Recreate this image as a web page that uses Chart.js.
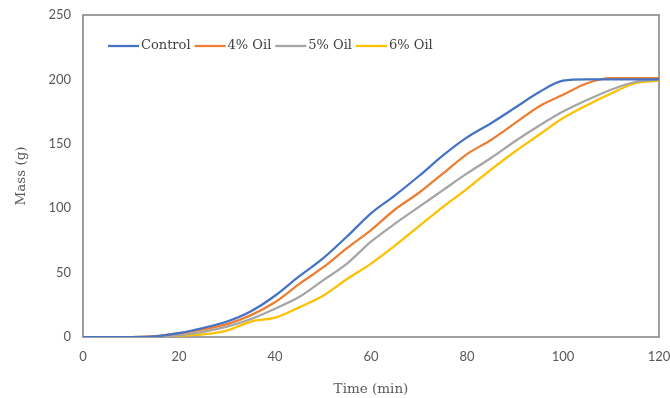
<!DOCTYPE html>
<html>
<head>
<meta charset="utf-8">
<script src="https://cdn.jsdelivr.net/npm/chart.js@4.4.0/dist/chart.umd.min.js"></script>
<style>
    html, body { margin: 0; padding: 0; background: #fff; }
    #wrap { width: 670px; height: 398px; }
</style>
</head>
<body>
<div id="wrap"><canvas id="massChart" width="670" height="398"></canvas></div>
<script>
// time in minutes, mass in grams
const time = [0, 5, 10, 15, 20, 25, 30, 35, 40, 45, 50, 55, 60, 65, 70, 75, 80, 85, 90, 95, 100, 105, 110, 115, 120];
const control = [0, 0, 0, 0.5, 3, 7, 12, 20, 32, 47, 61, 78, 96, 110, 125, 141, 155, 166, 178, 190, 199, 200, 200, 200, 200];
const oil4 = [0, 0, 0, 0.5, 3, 6, 10, 17, 27, 41, 54, 69, 83, 99, 112, 127, 142, 153, 166, 179, 188, 197, 201, 201, 201];
const oil5 = [0, 0, 0, 0.3, 1.5, 4, 8, 14, 22, 31, 44, 57, 74, 88, 101, 114, 127, 139, 152, 164, 175, 184, 192, 198, 200];
const oil6 = [0, 0, 0, 0.2, 1, 2, 5, 12, 15, 23, 32, 45, 57, 71, 86, 101, 115, 130, 144, 157, 170, 180, 189, 197, 199];

const seriesNames = ["Control", "4% Oil", "5% Oil", "6% Oil"];
const seriesColors = ["#4472C4", "#ED7D31", "#A5A5A5", "#FFC000"];

function toPoints(values) {
    return values.map((v, i) => ({ x: time[i], y: v }));
}

// box around the plot area, drawn under the lines
const plotFrame = {
    id: "plotFrame",
    beforeDatasetsDraw(chart) {
        const a = chart.chartArea;
        const c = chart.ctx;
        c.save();
        c.strokeStyle = "#7f7f7f";
        c.lineWidth = 1.5;
        c.strokeRect(a.left, a.top, a.right - a.left, a.bottom - a.top);
        c.restore();
    },
};

// legend row inside the plot, upper left
const insideLegend = {
    id: "insideLegend",
    afterDraw(chart) {
        const c = chart.ctx;
        const y = 46;
        let x = 108;
        c.save();
        c.font = '13px "DejaVu Serif"';
        c.textBaseline = "middle";
        chart.data.datasets.forEach((ds) => {
            c.strokeStyle = ds.borderColor;
            c.lineWidth = 2.25;
            c.beginPath();
            c.moveTo(x, y);
            c.lineTo(x + 31, y);
            c.stroke();
            c.fillStyle = "#404040";
            c.fillText(ds.label, x + 33, y);
            x += 33 + c.measureText(ds.label).width + 4;
        });
        c.restore();
    },
};

const ctx = document.getElementById("massChart").getContext("2d");
new Chart(ctx, {
    type: "line",
    data: {
        datasets: [control, oil4, oil5, oil6].map((vals, i) => ({
            label: seriesNames[i],
            data: toPoints(vals),
            borderColor: seriesColors[i],
            backgroundColor: seriesColors[i],
            borderWidth: 2.25,
            pointRadius: 0,
            cubicInterpolationMode: "monotone",
            fill: false,
        })),
    },
    options: {
        responsive: false,
        animation: false,
        layout: { padding: { left: 3, right: 11, top: 15, bottom: 0 } },
        plugins: {
            legend: { display: false },
            tooltip: { enabled: false },
        },
        scales: {
            x: {
                type: "linear",
                min: 0,
                max: 120,
                ticks: {
                    stepSize: 20,
                    padding: 12,
                    color: "#595959",
                    font: { family: "Lato", size: 13 },
                },
                grid: { display: false, drawTicks: false },
                border: { display: false },
                title: {
                    display: true,
                    text: "Time (min)",
                    color: "#595959",
                    font: { family: "DejaVu Serif", size: 13.5 },
                    padding: { top: 0, bottom: 0 },
                },
                afterFit(scale) {
                    scale.height = 61;
                    scale.paddingLeft = 0;
                    scale.paddingRight = 0;
                },
            },
            y: {
                min: 0,
                max: 250,
                ticks: {
                    stepSize: 50,
                    padding: 12,
                    color: "#595959",
                    font: { family: "Lato", size: 13 },
                },
                grid: { display: false, drawTicks: false },
                border: { display: false },
                title: {
                    display: true,
                    text: "Mass (g)",
                    color: "#595959",
                    font: { family: "DejaVu Serif", size: 13.5 },
                    padding: { top: 10, bottom: 0 },
                },
                afterFit(scale) {
                    scale.width = 80;
                    scale.paddingTop = 0;
                    scale.paddingBottom = 0;
                },
            },
        },
    },
    plugins: [plotFrame, insideLegend],
});
</script>
</body>
</html>
